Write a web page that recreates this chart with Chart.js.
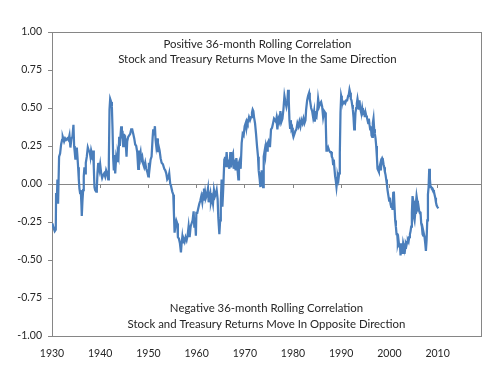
<!DOCTYPE html>
<html>
<head>
<meta charset="utf-8">
<script src="https://cdn.jsdelivr.net/npm/chart.js@4.4.0/dist/chart.umd.min.js"></script>
<style>
  html, body { margin: 0; padding: 0; background: #fff; }
  canvas { display: block; }
</style>
</head>
<body>
<canvas id="corr" width="500" height="377"></canvas>
<script>
// 36-month rolling stock/treasury correlation
const years = [
  1930.00,1930.15,1930.35,1930.57,1930.78,1930.85,1930.99,1931.12,1931.26,1931.47,1931.68,1931.89,1932.09,1932.23,1932.51,1932.72,1932.92,1933.20,1933.41,1933.62,1933.82,1934.03,1934.24,1934.45,1934.59,1934.72,1934.86,1935.00,1935.14,1935.28,1935.42,1935.56,1935.69,1935.83,1935.97,1936.11,1936.18,1936.32,1936.46,1936.59,1936.73,1936.87,1937.01,1937.22,1937.43,1937.63,1937.84,1937.98,1938.12,1938.26,1938.40,1938.53,1938.67,1938.81,1938.95,1939.16,1939.30,1939.43,1939.57,1939.71,1939.85,1939.99,
  1940.20,1940.40,1940.61,1940.82,1941.03,1941.23,1941.44,1941.66,1941.79,1941.93,1942.07,1942.28,1942.42,1942.56,1942.69,1942.83,1942.97,1943.11,1943.32,1943.53,1943.66,1943.80,1943.94,1944.08,1944.22,1944.36,1944.49,1944.63,1944.77,1944.91,1945.05,1945.19,1945.33,1945.46,1945.60,1945.81,1946.02,1946.23,1946.43,1946.64,1946.85,1947.06,1947.26,1947.47,1947.68,1947.89,1948.03,1948.17,1948.37,1948.51,1948.72,1948.93,1949.13,1949.34,1949.55,1949.76,1949.97,
  1950.10,1950.24,1950.45,1950.66,1950.87,1951.00,1951.14,1951.35,1951.49,1951.63,1951.84,1951.97,1952.11,1952.32,1952.53,1952.74,1953.01,1953.29,1953.50,1953.70,1953.91,1954.12,1954.32,1954.53,1954.67,1954.95,1955.16,1955.29,1955.43,1955.64,1955.78,1955.99,1956.12,1956.33,1956.54,1956.75,1956.89,1957.03,1957.16,1957.30,1957.51,1957.72,1957.93,1958.13,1958.34,1958.55,1958.76,1958.96,1959.17,1959.38,1959.52,1959.66,1959.85,1959.95,
  1960.14,1960.35,1960.56,1960.76,1960.97,1961.18,1961.39,1961.53,1961.66,1961.80,1961.94,1962.15,1962.36,1962.50,1962.63,1962.84,1962.98,1963.19,1963.40,1963.60,1963.81,1964.02,1964.16,1964.36,1964.50,1964.72,1964.88,1965.02,1965.19,1965.35,1965.54,1965.75,1965.89,1966.02,1966.23,1966.44,1966.58,1966.79,1967.00,1967.13,1967.34,1967.55,1967.69,1967.89,1968.10,1968.24,1968.45,1968.66,1968.79,1969.00,1969.14,1969.35,1969.56,1969.76,1969.97,
  1970.18,1970.32,1970.46,1970.59,1970.87,1971.08,1971.29,1971.49,1971.63,1971.77,1971.91,1972.12,1972.33,1972.53,1972.74,1972.88,1973.09,1973.23,1973.36,1973.50,1973.64,1973.78,1973.92,1974.13,1974.26,1974.40,1974.61,1974.75,1974.89,1975.03,1975.23,1975.44,1975.65,1975.86,1976.06,1976.27,1976.45,1976.56,1976.76,1976.97,1977.18,1977.39,1977.59,1977.80,1978.01,1978.22,1978.43,1978.63,1978.84,1978.98,1979.12,1979.26,1979.39,1979.53,1979.67,1979.81,1979.95,
  1980.09,1980.30,1980.50,1980.71,1980.92,1981.13,1981.33,1981.54,1981.75,1981.96,1982.17,1982.37,1982.58,1982.72,1982.93,1983.13,1983.34,1983.48,1983.62,1983.76,1983.97,1984.17,1984.38,1984.52,1984.66,1984.87,1985.07,1985.21,1985.42,1985.63,1985.83,1986.04,1986.25,1986.46,1986.67,1986.80,1986.94,1987.08,1987.29,1987.50,1987.71,1987.91,1988.05,1988.19,1988.32,1988.46,1988.60,1988.74,1988.88,1989.02,1989.15,1989.29,1989.43,1989.57,1989.71,1989.85,1989.99,
  1990.12,1990.26,1990.40,1990.61,1990.82,1991.03,1991.23,1991.44,1991.58,1991.72,1991.86,1991.99,1992.13,1992.27,1992.41,1992.55,1992.69,1992.83,1992.96,1993.10,1993.24,1993.38,1993.52,1993.66,1993.79,1993.93,1994.07,1994.21,1994.35,1994.49,1994.63,1994.76,1994.90,1995.04,1995.18,1995.32,1995.46,1995.60,1995.73,1995.87,1996.01,1996.15,1996.29,1996.43,1996.56,1996.70,1996.84,1996.98,1997.12,1997.26,1997.40,1997.53,1997.67,1997.81,1997.95,1998.09,1998.23,1998.37,1998.50,1998.64,1998.78,1998.92,1999.06,1999.20,1999.33,1999.47,1999.61,1999.75,1999.95,
  2000.09,2000.23,2000.37,2000.51,2000.65,2000.79,2000.92,2001.06,2001.20,2001.34,2001.48,2001.62,2001.75,2001.89,2002.03,2002.17,2002.31,2002.45,2002.59,2002.72,2002.86,2003.00,2003.14,2003.28,2003.42,2003.56,2003.69,2003.83,2003.97,2004.11,2004.25,2004.39,2004.52,2004.66,2004.80,2004.94,2005.08,2005.22,2005.36,2005.49,2005.63,2005.77,2005.91,2006.05,2006.19,2006.33,2006.46,2006.60,2006.74,2006.88,2007.02,2007.16,2007.29,2007.43,2007.57,2007.71,2007.85,2007.99,2008.13,2008.26,2008.40,2008.54,2008.68,2008.82,2008.96,2009.10,2009.23,2009.37,2009.51,2009.65,2009.79,2009.93,2010.07,2010.15
];
const corr = [
  -0.26,-0.27,-0.29,-0.31,-0.30,-0.06,-0.13,0.03,-0.13,0.18,0.20,0.26,0.29,0.31,0.28,0.30,0.29,0.30,0.29,0.32,0.24,0.30,0.31,0.39,0.25,0.21,0.16,0.21,0.24,0.18,0.11,0.03,-0.03,-0.06,-0.04,-0.14,-0.21,-0.11,-0.04,0.05,0.11,0.07,0.14,0.18,0.24,0.22,0.21,0.18,0.22,0.20,0.16,0.22,0.11,-0.02,-0.04,-0.05,-0.03,0.07,0.13,0.14,0.10,0.13,
  0.07,0.04,0.06,0.07,0.05,0.09,0.07,0.03,0.14,0.49,0.56,0.54,0.51,0.36,0.17,0.09,0.19,0.07,0.18,0.15,0.20,0.18,0.31,0.25,0.32,0.38,0.30,0.35,0.25,0.33,0.29,0.30,0.25,0.18,0.28,0.31,0.32,0.33,0.36,0.36,0.33,0.30,0.26,0.25,0.21,0.10,0.22,0.18,0.21,0.16,0.18,0.13,0.11,0.14,0.10,0.08,0.05,
  0.14,0.10,0.16,0.18,0.30,0.36,0.32,0.38,0.29,0.25,0.30,0.21,0.25,0.22,0.17,0.14,0.13,0.10,0.09,0.07,0.03,0.04,0.07,0.00,-0.01,-0.05,-0.07,-0.19,-0.32,-0.26,-0.24,-0.26,-0.35,-0.36,-0.39,-0.45,-0.39,-0.35,-0.39,-0.36,-0.38,-0.35,-0.37,-0.34,-0.28,-0.35,-0.28,-0.26,-0.24,-0.18,-0.28,-0.22,-0.34,-0.19,
  -0.19,-0.16,-0.13,-0.11,-0.08,-0.12,-0.06,-0.03,-0.11,-0.06,-0.09,-0.07,-0.03,-0.12,-0.09,-0.06,-0.12,-0.09,-0.13,-0.04,-0.08,-0.06,-0.04,-0.10,-0.22,-0.33,-0.24,-0.12,0.03,-0.15,-0.02,0.16,0.18,0.11,0.21,0.11,0.16,0.10,0.21,0.11,0.18,0.20,0.10,0.16,0.09,0.17,0.11,0.03,0.14,0.16,0.10,0.27,0.33,0.32,0.38,
  0.40,0.37,0.41,0.40,0.44,0.42,0.44,0.47,0.49,0.48,0.44,0.40,0.33,0.25,0.18,0.09,0.03,-0.02,0.07,0.09,0.00,-0.02,0.18,0.22,0.19,0.25,0.22,0.27,0.28,0.25,0.25,0.36,0.37,0.40,0.43,0.42,0.41,0.43,0.36,0.43,0.41,0.48,0.41,0.43,0.49,0.58,0.54,0.51,0.55,0.62,0.55,0.42,0.37,0.42,0.36,0.37,0.33,
  0.31,0.33,0.35,0.36,0.40,0.38,0.41,0.38,0.42,0.40,0.43,0.40,0.42,0.49,0.55,0.58,0.60,0.56,0.53,0.50,0.48,0.44,0.48,0.41,0.45,0.44,0.50,0.56,0.51,0.53,0.54,0.51,0.44,0.48,0.47,0.40,0.22,0.22,0.24,0.22,0.21,0.21,0.18,0.17,0.13,0.16,0.10,0.05,0.02,-0.02,0.02,0.05,0.03,0.07,0.20,0.47,0.58,
  0.56,0.54,0.53,0.54,0.53,0.55,0.55,0.58,0.59,0.62,0.60,0.56,0.55,0.52,0.49,0.44,0.36,0.38,0.47,0.50,0.53,0.56,0.53,0.49,0.55,0.50,0.48,0.47,0.50,0.47,0.48,0.47,0.44,0.47,0.45,0.44,0.42,0.40,0.43,0.39,0.36,0.38,0.32,0.31,0.40,0.43,0.36,0.33,0.30,0.25,0.18,0.10,0.09,0.08,0.11,0.13,0.09,0.16,0.17,0.16,0.13,0.11,0.08,0.06,0.03,0.00,-0.04,-0.07,-0.11,
  -0.09,-0.13,-0.15,-0.14,-0.17,-0.06,-0.05,-0.15,-0.24,-0.28,-0.33,-0.33,-0.39,-0.37,-0.41,-0.39,-0.47,-0.41,-0.39,-0.46,-0.39,-0.41,-0.46,-0.42,-0.39,-0.40,-0.38,-0.37,-0.38,-0.35,-0.33,-0.31,-0.28,-0.19,-0.08,-0.11,-0.22,-0.24,-0.19,-0.13,-0.08,-0.11,-0.16,-0.15,-0.18,-0.19,-0.19,-0.26,-0.28,-0.33,-0.34,-0.33,-0.35,-0.39,-0.44,-0.37,-0.24,-0.07,-0.02,0.10,0.03,-0.02,-0.02,-0.03,-0.03,-0.04,-0.05,-0.07,-0.09,-0.12,-0.14,-0.15,-0.15,-0.16
];

const xTicks = [1930, 1940, 1950, 1960, 1970, 1980, 1990, 2000, 2010];
const upperNote = ["Positive 36-month Rolling Correlation", "Stock and Treasury Returns Move In the Same Direction"];
const lowerNote = ["Negative 36-month Rolling Correlation", "Stock and Treasury Returns Move In Opposite Direction"];

const FONT = "Lato, 'Liberation Sans', sans-serif";
const TEXT = "#262626";
const AXIS = "#868686";

const keepDecades = (s) => { s.ticks = xTicks.map(v => ({ value: v })); };

// plot area box, like the excel frame
const plotFrame = {
  id: "plotFrame",
  beforeDatasetsDraw(chart) {
    const { ctx, chartArea: a } = chart;
    ctx.save();
    ctx.strokeStyle = AXIS;
    ctx.lineWidth = 1;
    ctx.strokeRect(Math.round(a.left) + 0.5, Math.round(a.top) + 0.5, Math.round(a.right - a.left), Math.round(a.bottom - a.top));
    ctx.restore();
  }
};

// the two text boxes inside the plot
const notes = {
  id: "notes",
  afterDraw(chart) {
    const { ctx, scales } = chart;
    const put = (lines, xv, yv, gap) => {
      const x = scales.x.getPixelForValue(xv);
      const y = scales.y.getPixelForValue(yv);
      lines.forEach((t, i) => ctx.fillText(t, x, y + i * gap));
    };
    ctx.save();
    ctx.font = "11.4px " + FONT;
    ctx.fillStyle = TEXT;
    ctx.textAlign = "center";
    ctx.textBaseline = "middle";
    put(upperNote, 1972.6, 0.92, 15);
    put(lowerNote, 1974.5, -0.82, 16);
    ctx.restore();
  }
};

new Chart(document.getElementById("corr"), {
  type: "line",
  data: {
    datasets: [{
      data: years.map((x, i) => ({ x: x, y: corr[i] })),
      borderColor: "#4a7ebb",
      borderWidth: 2.25,
      pointRadius: 0,
      tension: 0,
      fill: false
    }]
  },
  options: {
    responsive: false,
    animation: false,
    layout: { padding: { top: 32, right: 19, left: 0, bottom: 0 } },
    plugins: { legend: { display: false }, tooltip: { enabled: false } },
    scales: {
      x: {
        type: "linear",
        min: 1930,
        max: 2019,
        afterBuildTicks: keepDecades,
        afterFit: (s) => { s.height = 41; },
        grid: { display: false, drawTicks: false },
        border: { display: false },
        ticks: {
          padding: 11,
          maxRotation: 0,
          autoSkip: false,
          color: TEXT,
          font: { family: FONT, size: 10.5 },
          callback: (v) => String(v)
        }
      },
      zero: {
        axis: "x",
        type: "linear",
        min: 1930,
        max: 2019,
        position: { y: 0 },
        afterBuildTicks: keepDecades,
        grid: { drawOnChartArea: false, drawTicks: true, tickLength: 3, color: AXIS },
        border: { color: AXIS, width: 1 },
        ticks: { display: false }
      },
      y: {
        min: -1,
        max: 1,
        afterFit: (s) => { s.width = 52; },
        grid: { drawOnChartArea: false, tickLength: 4, color: AXIS },
        border: { color: AXIS },
        ticks: {
          stepSize: 0.25,
          padding: 6,
          color: TEXT,
          font: { family: FONT, size: 10.5 },
          callback: (v) => v.toFixed(2)
        }
      }
    }
  },
  plugins: [plotFrame, notes]
});
</script>
</body>
</html>
